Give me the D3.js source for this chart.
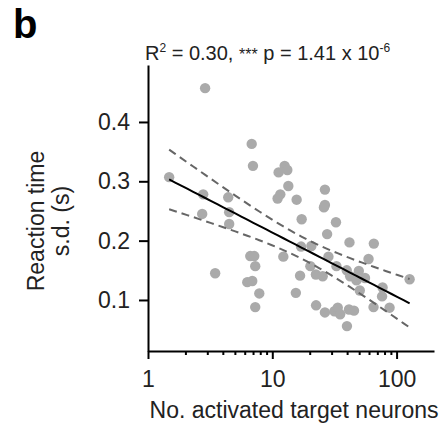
<!DOCTYPE html>
<html>
<head>
<meta charset="utf-8">
<script src="https://cdn.jsdelivr.net/npm/d3@7"></script>
<style>
  html, body { margin: 0; padding: 0; background: #fff; }
  svg { display: block; }
  text { font-family: "Liberation Sans", Arial, Helvetica, sans-serif; }
</style>
</head>
<body>
<svg id="chart" width="443" height="432"></svg>
<script>
// Number of activated target neurons per session
const neurons = [
  1.48, 2.88, 2.78, 2.73, 3.47, 4.42, 4.50, 4.50, 6.65, 7.16,
  7.29, 6.29, 6.90, 7.86, 7.29, 6.83, 6.99, 11.24, 12.57, 13.21,
  13.46, 11.60, 11.03, 15.70, 17.23, 12.27, 17.04, 20.63, 15.47, 26.51,
  26.51, 26.02, 32.52, 27.61, 41.78, 65.61, 28.29, 59.47, 20.25, 32.82,
  39.73, 49.66, 22.43, 25.44, 16.73, 42.33, 55.72, 47.58, 127.3, 77.13,
  50.59, 76.41, 22.51, 26.51, 31.62, 33.62, 35.16, 41.40, 45.42, 65.24,
  87.8, 39.88
];
// Standard deviation of reaction time (s) for the same sessions
const rtSD = [
  0.307, 0.457, 0.278, 0.245, 0.145, 0.273, 0.248, 0.228, 0.174, 0.174,
  0.157, 0.130, 0.132, 0.111, 0.088, 0.363, 0.326, 0.315, 0.326, 0.319,
  0.292, 0.278, 0.271, 0.269, 0.236, 0.173, 0.190, 0.191, 0.112, 0.286,
  0.260, 0.256, 0.231, 0.211, 0.197, 0.195, 0.173, 0.169, 0.157, 0.157,
  0.150, 0.149, 0.143, 0.140, 0.141, 0.140, 0.137, 0.133, 0.135, 0.121,
  0.116, 0.106, 0.091, 0.079, 0.081, 0.087, 0.076, 0.084, 0.082, 0.088,
  0.087, 0.056
];
const yTicks = [0.1, 0.2, 0.3, 0.4];
const xTicks = [1, 10, 100];
const xMinorTicks = [2, 3, 4, 5, 6, 7, 8, 9, 20, 30, 40, 50, 60, 70, 80, 90];
const statsLabel = { r2: "0.30", stars: "***", pMant: "1.41", pExp: "-6" };

const svg = d3.select("#chart");
const plotLeft = 148, plotRight = 434, plotTop = 65, plotBottom = 351;

const x = d3.scaleLog().domain([1, 200]).range([plotLeft, plotRight]);
const y = d3.scaleLinear().domain([0.014, 0.496]).range([plotBottom, plotTop]);

// Least-squares fit of rtSD against log10(neurons), with 95% confidence band
const lx = neurons.map(v => Math.log10(v));
const n = lx.length;
const mx = d3.mean(lx), my = d3.mean(rtSD);
let sxx = 0, sxy = 0;
for (let i = 0; i < n; i++) { sxx += (lx[i] - mx) ** 2; sxy += (lx[i] - mx) * (rtSD[i] - my); }
const slope = sxy / sxx, icpt = my - slope * mx;
let sse = 0;
for (let i = 0; i < n; i++) sse += (rtSD[i] - (icpt + slope * lx[i])) ** 2;
const s = Math.sqrt(sse / (n - 2));
const tCrit = 2.0;
const [lo, hi] = d3.extent(lx);
const grid = d3.range(0, 41).map(k => lo + (hi - lo) * k / 40);
const fit = grid.map(g => {
  const yh = icpt + slope * g;
  const se = s * Math.sqrt(1 / n + (g - mx) ** 2 / sxx);
  return { x: Math.pow(10, g), y: yh, lo: yh - tCrit * se, hi: yh + tCrit * se };
});

// points
svg.append("g").selectAll("circle").data(neurons).join("circle")
  .attr("cx", d => x(d))
  .attr("cy", (d, i) => y(rtSD[i]))
  .attr("r", 5.2)
  .attr("fill", "#aaaaaa");

// fit line and band
const line = key => d3.line().x(d => x(d.x)).y(d => y(d[key]));
svg.append("path").datum(fit).attr("d", line("hi"))
  .attr("fill", "none").attr("stroke", "#666").attr("stroke-width", 2)
  .attr("stroke-dasharray", "8,5");
svg.append("path").datum(fit).attr("d", line("lo"))
  .attr("fill", "none").attr("stroke", "#666").attr("stroke-width", 2)
  .attr("stroke-dasharray", "8,5");
svg.append("path").datum(fit).attr("d", line("y"))
  .attr("fill", "none").attr("stroke", "#000").attr("stroke-width", 2);

// y axis
const yAxis = svg.append("g").attr("transform", `translate(${plotLeft},0)`)
  .call(d3.axisLeft(y).tickValues(yTicks).tickFormat(d3.format(".1f"))
    .tickSize(9).tickPadding(9).tickSizeOuter(0));
yAxis.select(".domain").attr("stroke", "#000").attr("stroke-width", 2);
yAxis.selectAll(".tick line").attr("stroke", "#000").attr("stroke-width", 2);
yAxis.selectAll(".tick text").attr("font-size", 23).attr("fill", "#222")
  .attr("font-family", "Liberation Sans, Arial, sans-serif");

// x axis: major and minor ticks
const xAxis = svg.append("g").attr("transform", `translate(0,${plotBottom})`)
  .call(d3.axisBottom(x).tickValues(xTicks).tickFormat(d3.format("d"))
    .tickSize(8).tickPadding(12).tickSizeOuter(0));
xAxis.select(".domain").attr("stroke", "#000").attr("stroke-width", 2);
xAxis.selectAll(".tick line").attr("stroke", "#000").attr("stroke-width", 2);
xAxis.selectAll(".tick text").attr("font-size", 23).attr("fill", "#222")
  .attr("font-family", "Liberation Sans, Arial, sans-serif");
const xMinor = svg.append("g").attr("transform", `translate(0,${plotBottom})`)
  .call(d3.axisBottom(x).tickValues(xMinorTicks).tickFormat("").tickSize(4).tickSizeOuter(0));
xMinor.select(".domain").remove();
xMinor.selectAll(".tick line").attr("stroke", "#000").attr("stroke-width", 2);

// axis titles
svg.append("text").attr("x", (plotLeft + plotRight) / 2 + 3).attr("y", 418)
  .attr("text-anchor", "middle").attr("font-size", 23).attr("fill", "#222")
  .text("No. activated target neurons");
const yl = svg.append("text").attr("transform", "translate(44,221) rotate(-90)")
  .attr("text-anchor", "middle").attr("font-size", 23).attr("fill", "#222");
yl.append("tspan").attr("x", 0).attr("dy", 0).text("Reaction time");
yl.append("tspan").attr("x", 0).attr("dy", 25).text("s.d. (s)");

// statistics line
const st = svg.append("text").attr("x", 145).attr("y", 60)
  .attr("font-size", 20).attr("fill", "#222");
st.append("tspan").text("R");
st.append("tspan").attr("font-size", 12).attr("dy", -8).text("2");
st.append("tspan").attr("dy", 8).text(` = ${statsLabel.r2}, `);
st.append("tspan").attr("font-size", 16).text(statsLabel.stars);
st.append("tspan").text(` p = ${statsLabel.pMant} x 10`);
st.append("tspan").attr("font-size", 12).attr("dy", -8).text(statsLabel.pExp);

// panel letter
svg.append("text").attr("x", 13).attr("y", 38)
  .attr("font-size", 40).attr("font-weight", "bold").attr("fill", "#000")
  .text("b");
</script>
</body>
</html>
